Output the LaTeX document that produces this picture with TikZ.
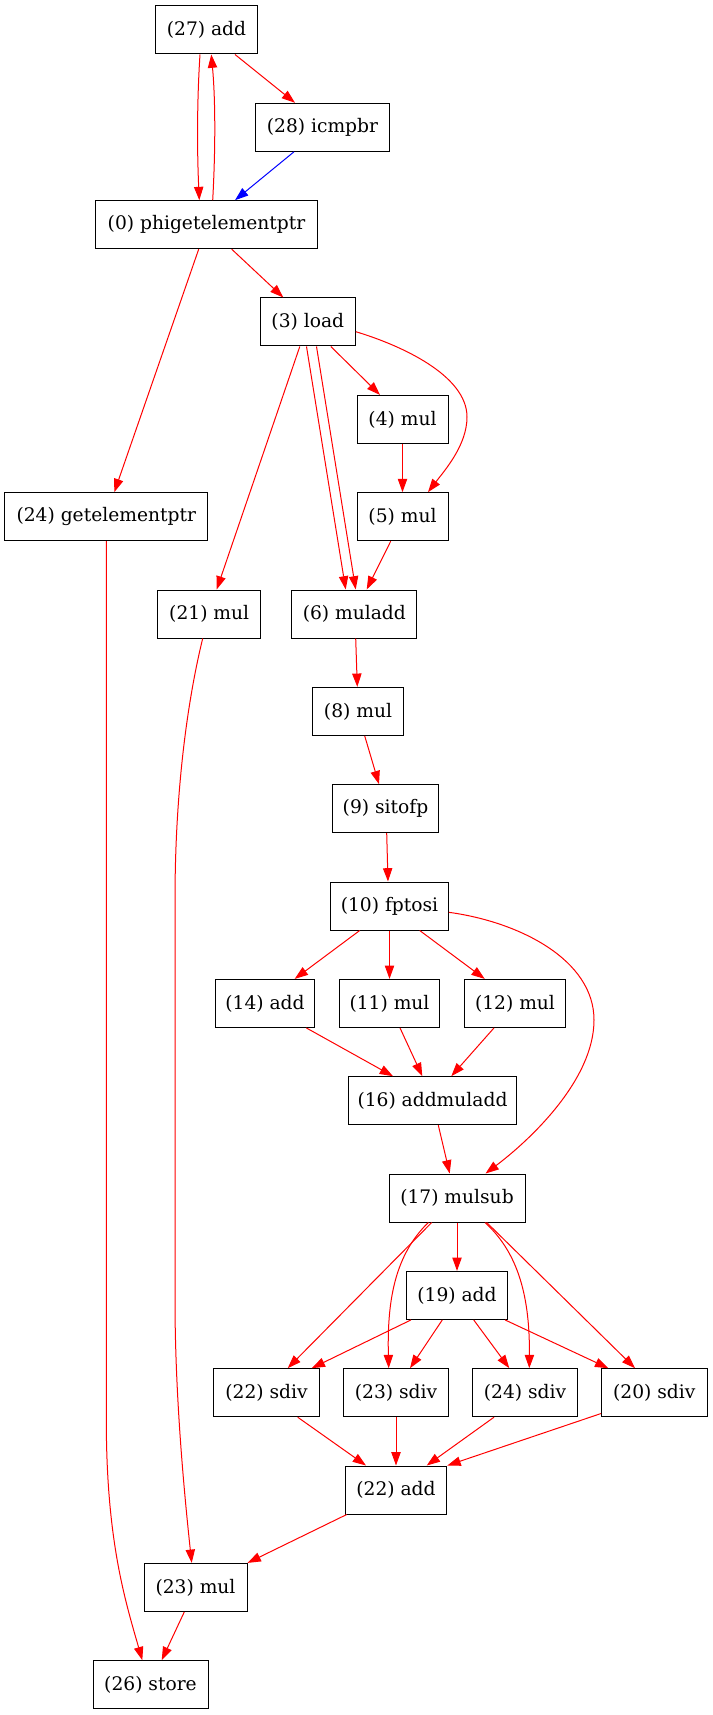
\documentclass[tikz,border=0pt]{standalone}
\usepackage{fontspec}
\setmainfont{DejaVu Serif}
\usetikzlibrary{arrows.meta,calc}
\begin{document}
\begin{tikzpicture}[x=0.75pt,y=-0.75pt,
  nd/.style={draw=black, line width=0.75pt, minimum width=#1*0.75pt, minimum height=36pt,
             inner xsep=2pt, inner ysep=0pt, font=\fontsize{14pt}{16pt}\selectfont},
  ed/.style={draw=red, line width=0.75pt, -{Triangle[length=10pt,width=7pt]}},
  edb/.style={draw=blue, line width=0.75pt, -{Triangle[length=10pt,width=7pt]}}
]
\useasboundingbox (0,0) rectangle (713,1715);
% nodes
\node[nd=101.6] (n27) at (206.5,30) {(27) add};
\node[nd=133.7] (n28) at (322.5,127.3) {(28) icmpbr};
\node[nd=221.7] (n0) at (206.5,224.7) {(0) phigetelementptr};
\node[nd=95] (n3) at (307.8,322) {(3) load};
\node[nd=91] (n4) at (402.5,419.4) {(4) mul};
\node[nd=91] (n5) at (402.5,516.7) {(5) mul};
\node[nd=203.3] (n24g) at (106.3,516.7) {(24) getelementptr};
\node[nd=103] (n21) at (209.2,614) {(21) mul};
\node[nd=125.3] (n6) at (354.3,614) {(6) muladd};
\node[nd=91] (n8) at (358,711.4) {(8) mul};
\node[nd=106.3] (n9) at (385.5,808.7) {(9) sitofp};
\node[nd=117.7] (n10) at (389.5,906) {(10) fptosi};
\node[nd=99.7] (n14) at (265,1003.4) {(14) add};
\node[nd=100.7] (n11) at (389.5,1003.4) {(11) mul};
\node[nd=101] (n12) at (515,1003.4) {(12) mul};
\node[nd=168.7] (n16) at (432.5,1100.7) {(16) addmuladd};
\node[nd=136] (n17) at (457,1198) {(17) mulsub};
\node[nd=101.7] (n19) at (457,1295.4) {(19) add};
\node[nd=105.5] (n22s) at (266.5,1392.7) {(22) sdiv};
\node[nd=105.5] (n23s) at (396,1392.7) {(23) sdiv};
\node[nd=105.5] (n24s) at (525,1392.7) {(24) sdiv};
\node[nd=105.5] (n20s) at (654.3,1392.7) {(20) sdiv};
\node[nd=101.7] (n22a) at (396,1490) {(22) add};
\node[nd=103] (n23m) at (195.5,1587.4) {(23) mul};
\node[nd=115] (n26) at (150.5,1684.7) {(26) store};
% edges
\draw[ed] ($(n27.south)+(-6.5,0)$) .. controls (197,100) and (197,150) .. ($(n0.north)+(-7.2,0)$);
\draw[ed] ($(n0.north)+(6.2,0)$) .. controls (215.5,150) and (215.5,100) .. ($(n27.south)+(4.8,0)$);
\draw[ed] ($(n27.south)+(28.5,0)$) -- ($(n28.north)+(-27.5,0)$);
\draw[edb] ($(n28.south)+(-28.5,0)$) -- ($(n0.north)+(28.5,0)$);
\draw[ed] ($(n0.south)+(25.2,0)$) -- ($(n3.north)+(-24.5,0)$);
\draw[ed] ($(n0.south)+(-7.8,0)$) -- ($(n24g.north)+(8,0)$);
\draw[ed] ($(n3.south)+(23,0)$) -- ($(n4.north)+(-22.5,0)$);
\draw[ed] ($(n3.east)+(0,9.7)$) .. controls (400,345) and (467,375) .. (467,417) .. controls (467,445) and (445,470) .. ($(n5.north)+(25.5,0)$);
\draw[ed] (n4.south) -- (n5.north);
\draw[ed] ($(n3.south)+(-1.3,0)$) -- ($(n6.north)+(-8.6,0)$);
\draw[ed] ($(n3.south)+(8.7,0)$) -- ($(n6.north)+(1.4,0)$);
\draw[ed] ($(n5.south)+(-11.8,0)$) -- ($(n6.north)+(12.4,0)$);
\draw[ed] ($(n3.south)+(-8,0)$) -- ($(n21.north)+(7.5,0)$);
\draw[ed] ($(n6.south)+(1.4,0)$) -- ($(n8.north)+(-0.7,0)$);
\draw[ed] ($(n8.south)+(6.7,0)$) -- ($(n9.north)+(-6.5,0)$);
\draw[ed] ($(n9.south)+(1.2,0)$) -- ($(n10.north)+(-1.5,0)$);
\draw[ed] ($(n10.south)+(-29.8,0)$) -- ($(n14.north)+(29.7,0)$);
\draw[ed] (n10.south) -- (n11.north);
\draw[ed] ($(n10.south)+(30.2,0)$) -- ($(n12.north)+(-30.3,0)$);
\draw[ed] ($(n10.east)+(0,6.3)$) .. controls (520,922) and (594,960) .. (594,1020) .. controls (594,1080) and (530,1140) .. ($(n17.north)+(28.5,0)$);
\draw[ed] ($(n14.south)+(41.3,0)$) -- ($(n16.north)+(-39.5,0)$);
\draw[ed] ($(n11.south)+(10.5,0)$) -- ($(n16.north)+(-10.2,0)$);
\draw[ed] ($(n12.south)+(-21,0)$) -- ($(n16.north)+(18.8,0)$);
\draw[ed] ($(n16.south)+(5.8,0)$) -- ($(n17.north)+(-7.3,0)$);
\draw[ed] (n17.south) -- (n19.north);
\draw[ed] ($(n17.south)+(-25.3,0)$) -- ($(n22s.north)+(21.2,0)$);
\draw[ed] ($(n17.south)+(-28.7,0)$) .. controls (395,1255) and (387,1300) .. ($(n23s.north)+(-7.3,0)$);
\draw[ed] ($(n17.south)+(28,0)$) .. controls (515,1250) and (530,1290) .. ($(n24s.north)+(4.3,0)$);
\draw[ed] ($(n17.south)+(29.7,0)$) -- ($(n20s.north)+(-19.3,0)$);
\draw[ed] ($(n19.south)+(-46,0)$) -- ($(n22s.north)+(45.2,0)$);
\draw[ed] ($(n19.south)+(-14.7,0)$) -- ($(n23s.north)+(14,0)$);
\draw[ed] ($(n19.south)+(16.7,0)$) -- ($(n24s.north)+(-15.7,0)$);
\draw[ed] ($(n19.south)+(48,0)$) -- ($(n20s.north)+(-46,0)$);
\draw[ed] ($(n22s.south)+(31.2,0)$) -- ($(n22a.north)+(-30,0)$);
\draw[ed] (n23s.south) -- (n22a.north);
\draw[ed] ($(n24s.south)+(-31,0)$) -- ($(n22a.north)+(30.7,0)$);
\draw[ed] ($(n20s.west)+(0,20.8)$) -- (n22a.north east);
\draw[ed] ($(n22a.south)+(-49.3,0)$) -- (n23m.north east);
\draw[ed] ($(n21.south)+(-6.5,0)$) .. controls (190,690) and (175,780) .. (175,900) -- (175,1300) .. controls (175,1400) and (185,1500) .. ($(n23m.north)+(-3.8,0)$);
\draw[ed] ($(n23m.south)+(-11.2,0)$) -- ($(n26.north)+(11.2,0)$);
\draw[ed] (n24g.south) -- (106.3,1420) .. controls (106.3,1540) and (125,1600) .. ($(n26.north)+(-8.2,0)$);
\end{tikzpicture}
\end{document}
